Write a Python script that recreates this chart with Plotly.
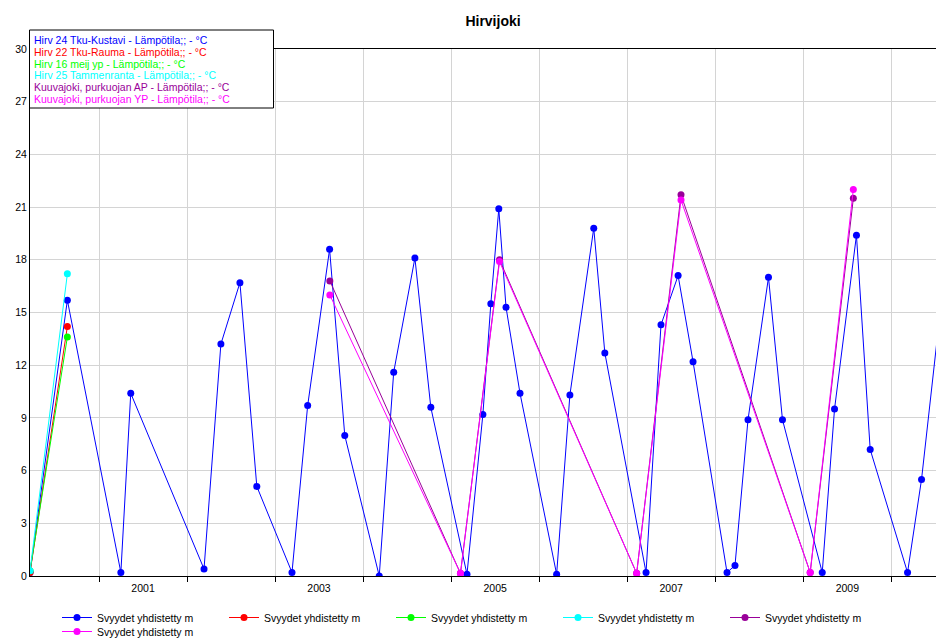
import plotly.graph_objects as go

# --- data -------------------------------------------------------------------
legend_name = "Svyydet yhdistetty m"

station_names = [
    "Hirv 24 Tku-Kustavi - Lämpötila;; - °C",
    "Hirv 22 Tku-Rauma - Lämpötila;; - °C",
    "Hirv 16 meij yp - Lämpötila;; - °C",
    "Hirv 25 Tammenranta - Lämpötila;; - °C",
    "Kuuvajoki, purkuojan AP - Lämpötila;; - °C",
    "Kuuvajoki, purkuojan YP - Lämpötila;; - °C",
]
station_colors = ["#0000FF", "#FF0000", "#00FF00", "#00FFFF", "#990099", "#FF00FF"]

kustavi_dates = [
    "2000-03-20", "2000-08-22", "2001-04-01", "2001-05-12", "2002-03-12",
    "2002-05-21", "2002-08-08", "2002-10-17", "2003-03-12", "2003-05-16",
    "2003-08-15", "2003-10-17", "2004-03-08", "2004-05-07", "2004-08-03",
    "2004-10-08", "2005-03-07", "2005-05-12", "2005-06-14", "2005-07-17",
    "2005-08-16", "2005-10-13", "2006-03-14", "2006-05-08", "2006-08-15",
    "2006-09-30", "2007-03-20", "2007-05-21", "2007-07-31", "2007-10-01",
    "2008-02-19", "2008-03-23", "2008-05-16", "2008-08-09", "2008-10-06",
    "2009-03-20", "2009-05-10", "2009-08-09", "2009-10-05", "2010-03-09",
    "2010-05-06", "2010-07-22",
]
kustavi_temp = [
    0.2, 15.7, 0.2, 10.4, 0.4,
    13.2, 16.7, 5.1, 0.2, 9.7,
    18.6, 8.0, 0.0, 11.6, 18.1,
    9.6, 0.1, 9.2, 15.5, 20.9,
    15.3, 10.4, 0.1, 10.3, 19.8,
    12.7, 0.2, 14.3, 17.1, 12.2,
    0.2, 0.6, 8.9, 17.0, 8.9,
    0.2, 9.5, 19.4, 7.2, 0.2,
    5.5, 15.0,
]

rauma_dates = ["2000-03-20", "2000-08-22"]
rauma_temp = [0.2, 14.2]

meij_dates = ["2000-03-20", "2000-08-22"]
meij_temp = [0.3, 13.6]

tammenranta_dates = ["2000-03-20", "2000-08-22"]
tammenranta_temp = [0.3, 17.2]

kuuva_ap_dates = ["2003-08-16", "2005-02-08", "2005-07-20", "2007-02-09",
                  "2007-08-12", "2009-01-29", "2009-07-27"]
kuuva_ap_temp = [16.8, 0.15, 18.0, 0.15, 21.7, 0.2, 21.5]

kuuva_yp_dates = ["2003-08-16", "2005-02-08", "2005-07-20", "2007-02-09",
                  "2007-08-12", "2009-01-29", "2009-07-27"]
kuuva_yp_temp = [16.0, 0.15, 17.9, 0.15, 21.4, 0.2, 22.0]

year_ticks = [f"{y}-01-01" for y in range(2000, 2011)]
year_label_pos = ["2001-07-02", "2003-07-02", "2005-07-02", "2007-07-02", "2009-07-02"]
year_labels = ["2001", "2003", "2005", "2007", "2009"]

x_range = ["2000-03-20", "2010-07-05"]
y_range = [0, 30]

series = [
    (kustavi_dates, kustavi_temp),
    (rauma_dates, rauma_temp),
    (meij_dates, meij_temp),
    (tammenranta_dates, tammenranta_temp),
    (kuuva_ap_dates, kuuva_ap_temp),
    (kuuva_yp_dates, kuuva_yp_temp),
]

# --- figure -----------------------------------------------------------------
W, H = 936, 639
ML, MR, MT, MB = 30, 0, 49, 63
PW, PH = W - ML - MR, H - MT - MB
FONT = "Liberation Sans, Arial, sans-serif"


def px_x(x):
    return (x - ML) / PW


def px_y(y):
    return (H - MB - y) / PH


fig = go.Figure()
for i, ((dates, temps), color) in enumerate(zip(series, station_colors)):
    fig.add_trace(go.Scatter(
        x=dates, y=temps, name=legend_name, mode="lines+markers",
        line=dict(color=color, width=1),
        marker=dict(color=color, size=7, symbol="circle"),
        cliponaxis=True,
        # five entries per legend row; the sixth starts a second row
        legend="legend" if i < 5 else "legend2",
    ))

legend_style = dict(orientation="h", xanchor="left", yanchor="top", entrywidth=122,
                    font=dict(size=10.5, family=FONT, color="black"),
                    bgcolor="rgba(0,0,0,0)", itemclick=False)

fig.update_layout(
    width=W, height=H,
    margin=dict(l=ML, r=MR, t=MT, b=MB, autoexpand=False),
    paper_bgcolor="white", plot_bgcolor="white",
    font=dict(family=FONT, size=10.5, color="black"),
    title=dict(text="<b>Hirvijoki</b>", font=dict(size=14, family=FONT, color="black"),
               x=px_x(493), xref="paper", xanchor="center",
               y=1 - 21 / H, yref="container", yanchor="middle"),
    showlegend=True,
    legend=dict(x=px_x(57), y=px_y(603), **legend_style),
    legend2=dict(x=px_x(57), y=px_y(617), **legend_style),
    xaxis=dict(
        type="date", range=x_range,
        tickmode="array", tickvals=year_label_pos, ticktext=year_labels,
        ticks="", showgrid=False, zeroline=False, ticklabelstandoff=2,
        showline=True, linecolor="black", linewidth=1, mirror=True,
        tickfont=dict(size=10.5, color="black"),
        minor=dict(tickmode="array", tickvals=year_ticks, ticks="outside",
                   ticklen=5, tickcolor="black", tickwidth=1,
                   showgrid=True, gridcolor="#D4D4D4", gridwidth=1),
    ),
    yaxis=dict(
        range=y_range, tickmode="linear", tick0=0, dtick=3,
        showgrid=True, gridcolor="#D4D4D4", gridwidth=1,
        zeroline=False, showline=True, linecolor="black", linewidth=1,
        ticks="", tickfont=dict(size=10.5, color="black"),
    ),
)

# station key box in the upper-left corner
fig.add_shape(type="rect", xref="paper", yref="paper",
              x0=px_x(29.5), x1=px_x(273.5), y0=px_y(108), y1=px_y(30),
              line=dict(color="black", width=1), fillcolor="white", layer="above")
line_y = [40, 51.8, 63.6, 75.4, 87.2, 99]
for name, color, yy in zip(station_names, station_colors, line_y):
    fig.add_annotation(text=name, xref="paper", yref="paper",
                       x=px_x(32), y=px_y(yy), xanchor="left", yanchor="middle",
                       showarrow=False, font=dict(size=10.5, family=FONT, color=color))

fig.write_html("out.html")
